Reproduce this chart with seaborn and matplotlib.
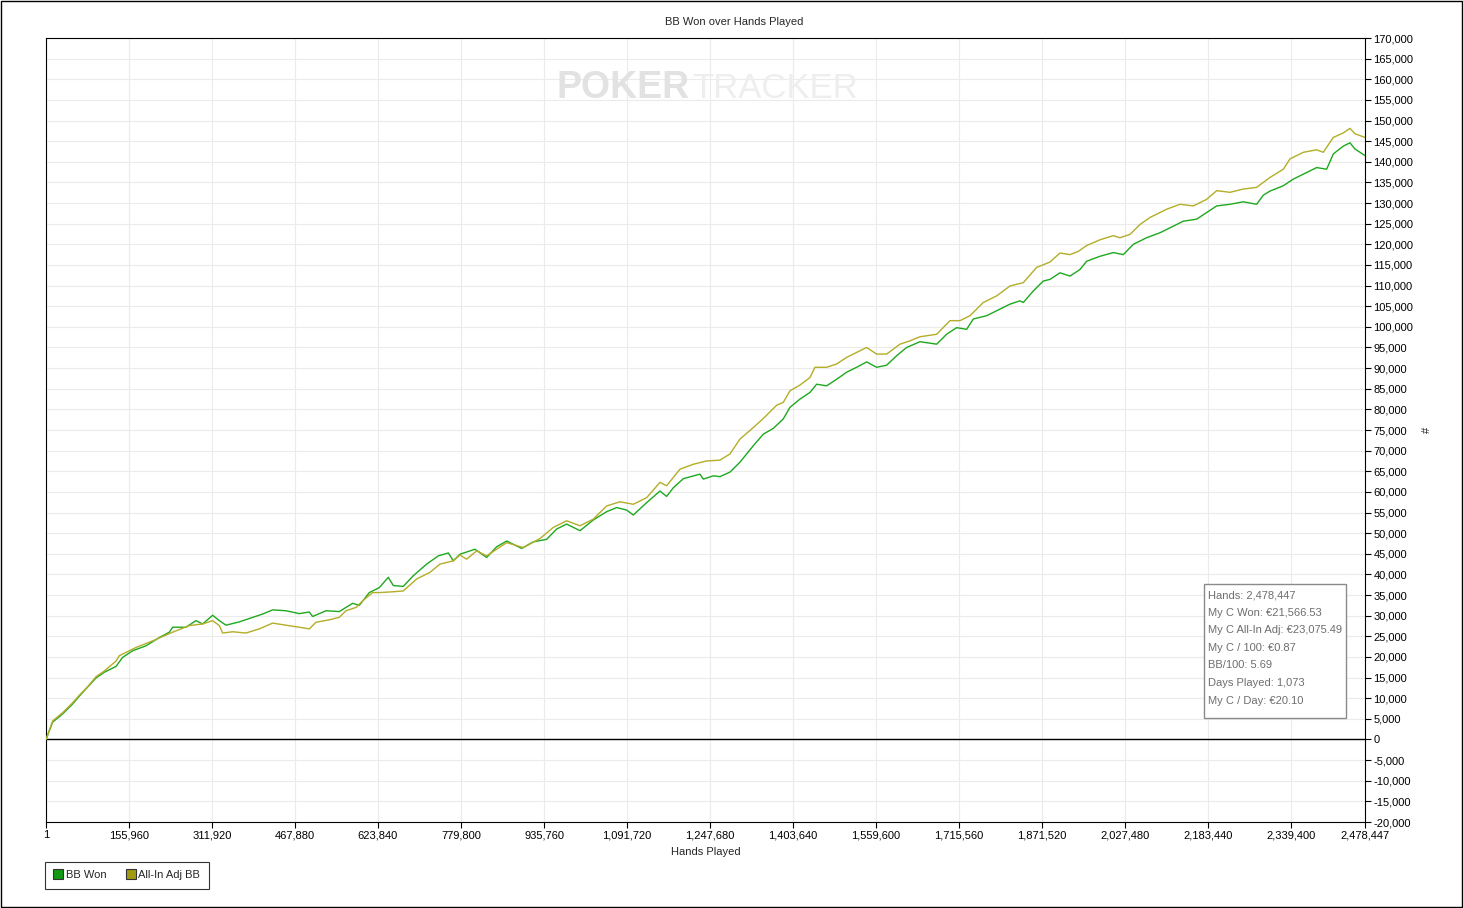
import numpy as np
import pandas as pd
import matplotlib
matplotlib.use('Agg')
import matplotlib.pyplot as plt
from matplotlib.patches import Rectangle
from matplotlib.lines import Line2D
from matplotlib.ticker import FuncFormatter
import seaborn as sns

# BB Won
bb_hands = [1, 12500, 31300, 50100, 62600, 78300, 93900, 109600, 131500, 144000,
            162800, 187900, 212900, 231700, 238000, 263000, 281800, 294400, 313200, 325700,
            338200, 363300, 388300, 407100, 425900, 450900, 476000, 494800, 501000, 526100,
            551100, 563700, 576200, 588700, 607500, 626300, 643200, 652600, 671400, 690200,
            715300, 737200, 756000, 765400, 777900, 806100, 828000, 846800, 865600, 893800,
            915700, 940700, 959500, 978300, 1003400, 1028400, 1053500, 1072300, 1091100, 1103600,
            1128600, 1153700, 1166200, 1178700, 1197500, 1228800, 1235100, 1253900, 1266400, 1285200,
            1304000, 1329100, 1347900, 1366700, 1385400, 1398000, 1416800, 1435500, 1448100, 1466900,
            1485700, 1504400, 1523200, 1542000, 1560800, 1579600, 1598400, 1617200, 1642200, 1673600,
            1692300, 1711100, 1729900, 1742400, 1767500, 1786300, 1811300, 1830100, 1836400, 1855200,
            1873900, 1886500, 1905300, 1924100, 1942900, 1955400, 1980500, 2005500, 2024300, 2043100,
            2068100, 2093200, 2112000, 2137000, 2162100, 2180900, 2199700, 2224700, 2249800, 2274800,
            2287400, 2299900, 2325000, 2343700, 2368800, 2387600, 2406300, 2418900, 2437700, 2450200,
            2459600, 2469000, 2478447]
bb_won = [0, 4200, 6200, 8600, 10500, 12700, 14900, 16300, 17700, 19900,
          21500, 22700, 24700, 26000, 27200, 27200, 28800, 28000, 30100, 28800,
          27700, 28500, 29600, 30400, 31400, 31200, 30500, 30900, 29800, 31200,
          31000, 32000, 33000, 32500, 35600, 36800, 39300, 37300, 37100, 39700,
          42500, 44500, 45200, 43300, 44900, 46100, 44100, 46700, 48100, 46300,
          47900, 48500, 51000, 52200, 50600, 53200, 55200, 56200, 55600, 54400,
          57400, 60200, 58900, 61000, 63200, 64300, 63100, 63900, 63700, 64800,
          67200, 71200, 74000, 75400, 77700, 80500, 82500, 84100, 86100, 85700,
          87300, 89000, 90200, 91500, 90200, 90700, 93000, 95000, 96400, 95800,
          98200, 99800, 99400, 101900, 102700, 103900, 105500, 106300, 105900, 108700,
          111100, 111500, 113100, 112300, 113900, 115900, 117100, 118000, 117500, 120000,
          121600, 122800, 124000, 125600, 126100, 127700, 129300, 129700, 130300, 129700,
          131900, 132900, 134200, 135800, 137400, 138600, 138200, 141900, 143800, 144600,
          143100, 142300, 141500]

# All-In Adj BB
adj_hands = [1, 12500, 31300, 50100, 62600, 78300, 93900, 109600, 131500, 137800,
             169100, 200400, 238000, 269300, 294400, 313200, 325700, 331900, 350700, 375800,
             400800, 425900, 450900, 476000, 494800, 507300, 532400, 551100, 563700, 582500,
             595000, 613800, 626300, 652600, 671400, 696500, 721500, 740300, 765400, 777900,
             790400, 809200, 828000, 865600, 896900, 928200, 953300, 978300, 1003400, 1028400,
             1053500, 1078500, 1103600, 1128600, 1153700, 1166200, 1191300, 1216300, 1241400, 1266400,
             1285200, 1304000, 1329100, 1347900, 1372900, 1385400, 1398000, 1416800, 1435500, 1444900,
             1466900, 1485700, 1504400, 1523200, 1542000, 1560800, 1579600, 1604600, 1623400, 1642200,
             1673600, 1698600, 1717400, 1736200, 1761200, 1786300, 1811300, 1836400, 1861400, 1886500,
             1905300, 1924100, 1939800, 1955400, 1980500, 2005500, 2018000, 2036800, 2055600, 2074400,
             2105700, 2130800, 2155800, 2180900, 2199700, 2224700, 2249800, 2274800, 2299900, 2325000,
             2337500, 2362600, 2387600, 2400100, 2418900, 2437700, 2450200, 2459600, 2478447]
adj_bb = [0, 4500, 6500, 8900, 10700, 12800, 15200, 16600, 19000, 20300,
          22300, 23900, 26000, 27600, 28000, 28800, 27600, 25800, 26100, 25800,
          26800, 28200, 27700, 27200, 26800, 28400, 29000, 29600, 31200, 32000,
          33600, 35600, 35600, 35800, 36000, 38900, 40500, 42500, 43300, 44700,
          43700, 45700, 44500, 47700, 46500, 48700, 51400, 53000, 51800, 53400,
          56600, 57600, 57000, 58600, 62300, 61500, 65500, 66700, 67500, 67700,
          69200, 72800, 75600, 77800, 81000, 81700, 84500, 85900, 87700, 90200,
          90200, 91000, 92600, 93800, 95000, 93400, 93400, 95800, 96600, 97600,
          98200, 101500, 101500, 102700, 105900, 107500, 109900, 110700, 114400, 115700,
          117900, 117500, 118300, 119700, 121100, 122100, 121600, 122400, 124800, 126500,
          128500, 129700, 129300, 130900, 133000, 132600, 133400, 133800, 136200, 138200,
          140700, 142300, 142900, 142300, 145900, 147000, 148100, 146800, 145900]

x_ticks = [1, 155960, 311920, 467880, 623840, 779800, 935760, 1091720, 1247680,
           1403640, 1559600, 1715560, 1871520, 2027480, 2183440, 2339400, 2478447]
stats = ["Hands: 2,478,447", "My C Won: €21,566.53", "My C All-In Adj: €23,075.49",
         "My C / 100: €0.87", "BB/100: 5.69", "Days Played: 1,073", "My C / Day: €20.10"]

colors = {'BB Won': '#1ea81e', 'All-In Adj BB': '#b3ad27'}

df = pd.concat([
    pd.DataFrame({'hands': bb_hands, 'bb': bb_won, 'series': 'BB Won'}),
    pd.DataFrame({'hands': adj_hands, 'bb': adj_bb, 'series': 'All-In Adj BB'}),
])

sns.set_style('white')
plt.rcParams['font.family'] = ['Liberation Sans', 'DejaVu Sans']

W, H = 1463, 908
fig = plt.figure(figsize=(W / 100, H / 100), dpi=100)
ax = fig.add_axes([46 / W, 1 - 822 / H, 1319 / W, 784 / H])

# watermark
fig.text(690 / W, 1 - 88 / H, 'POKER', ha='right', va='center', fontsize=27,
         fontweight='bold', color='#e2e2e2', zorder=0)
fig.text(692 / W, 1 - 88 / H, 'TRACKER', ha='left', va='center', fontsize=25,
         color='#eeeeee', zorder=0)
ax.patch.set_alpha(0)

sns.lineplot(data=df, x='hands', y='bb', hue='series', palette=colors, estimator=None,
             sort=False, linewidth=1.0, legend=False, ax=ax, zorder=3)
ax.axhline(0, color='black', linewidth=1.0, zorder=2)

ax.set_xlim(1, 2478447)
ax.set_ylim(-20000, 170000)
ax.set_xticks(x_ticks)
ax.set_yticks(np.arange(-20000, 170001, 5000))
ax.xaxis.set_major_formatter(FuncFormatter(lambda v, p: f'{int(v):,}'))
ax.yaxis.set_major_formatter(FuncFormatter(lambda v, p: f'{int(v):,}'))
ax.yaxis.tick_right()
ax.yaxis.set_label_position('right')
ax.tick_params(axis='y', right=True, left=False, direction='out', length=4, width=0.8,
               labelsize=8, pad=2, colors='black')
ax.tick_params(axis='x', bottom=True, direction='out', length=4, width=0.8,
               labelsize=8, pad=2, colors='black')
ax.grid(True, color='#ebebeb', linewidth=0.8)
ax.set_axisbelow(True)
for s in ax.spines.values():
    s.set_color('black')
    s.set_linewidth(0.8)

ax.set_xlabel('Hands Played', fontsize=8)
ax.xaxis.set_label_coords(0.5, -(852 - 822) / 784)
ax.xaxis.label.set_va('center')
ax.set_ylabel('#', fontsize=8)
ax.yaxis.set_label_coords((1422 - 46) / 1319, 0.5)

fig.text(0.502, 1 - 22 / H, 'BB Won over Hands Played', ha='center', va='center', fontsize=8)

# stats box
fig.add_artist(Rectangle((1204 / W, 1 - 718 / H), 142 / W, 134 / H, transform=fig.transFigure,
                         facecolor='white', edgecolor='#8a8a8a', linewidth=1.0, zorder=5))
fig.text(1208 / W, 1 - 590 / H, '\n'.join(stats), ha='left', va='top', fontsize=8,
         color='#6e6e6e', linespacing=1.95, zorder=6)

# legend
handles = [Line2D([], [], linestyle='none', marker='s', markersize=6.5,
                  markerfacecolor=c, markeredgecolor='#333333', markeredgewidth=0.8)
           for c in ['#119a11', '#a09a10']]
leg = fig.legend(handles, list(colors.keys()), loc='upper left',
                 bbox_to_anchor=(45 / W, 1 - 862 / H), ncol=2, fontsize=8, frameon=True,
                 fancybox=False, edgecolor='black', handlelength=0.8, handletextpad=0.3,
                 columnspacing=1.8, borderpad=0.75, borderaxespad=0)
leg.get_frame().set_linewidth(0.8)

# outer border
fig.add_artist(Rectangle((0.0004, 0.0006), 0.9992, 0.9988, transform=fig.transFigure,
                         fill=False, edgecolor='black', linewidth=1.0))

fig.savefig('out.png', dpi=100)
